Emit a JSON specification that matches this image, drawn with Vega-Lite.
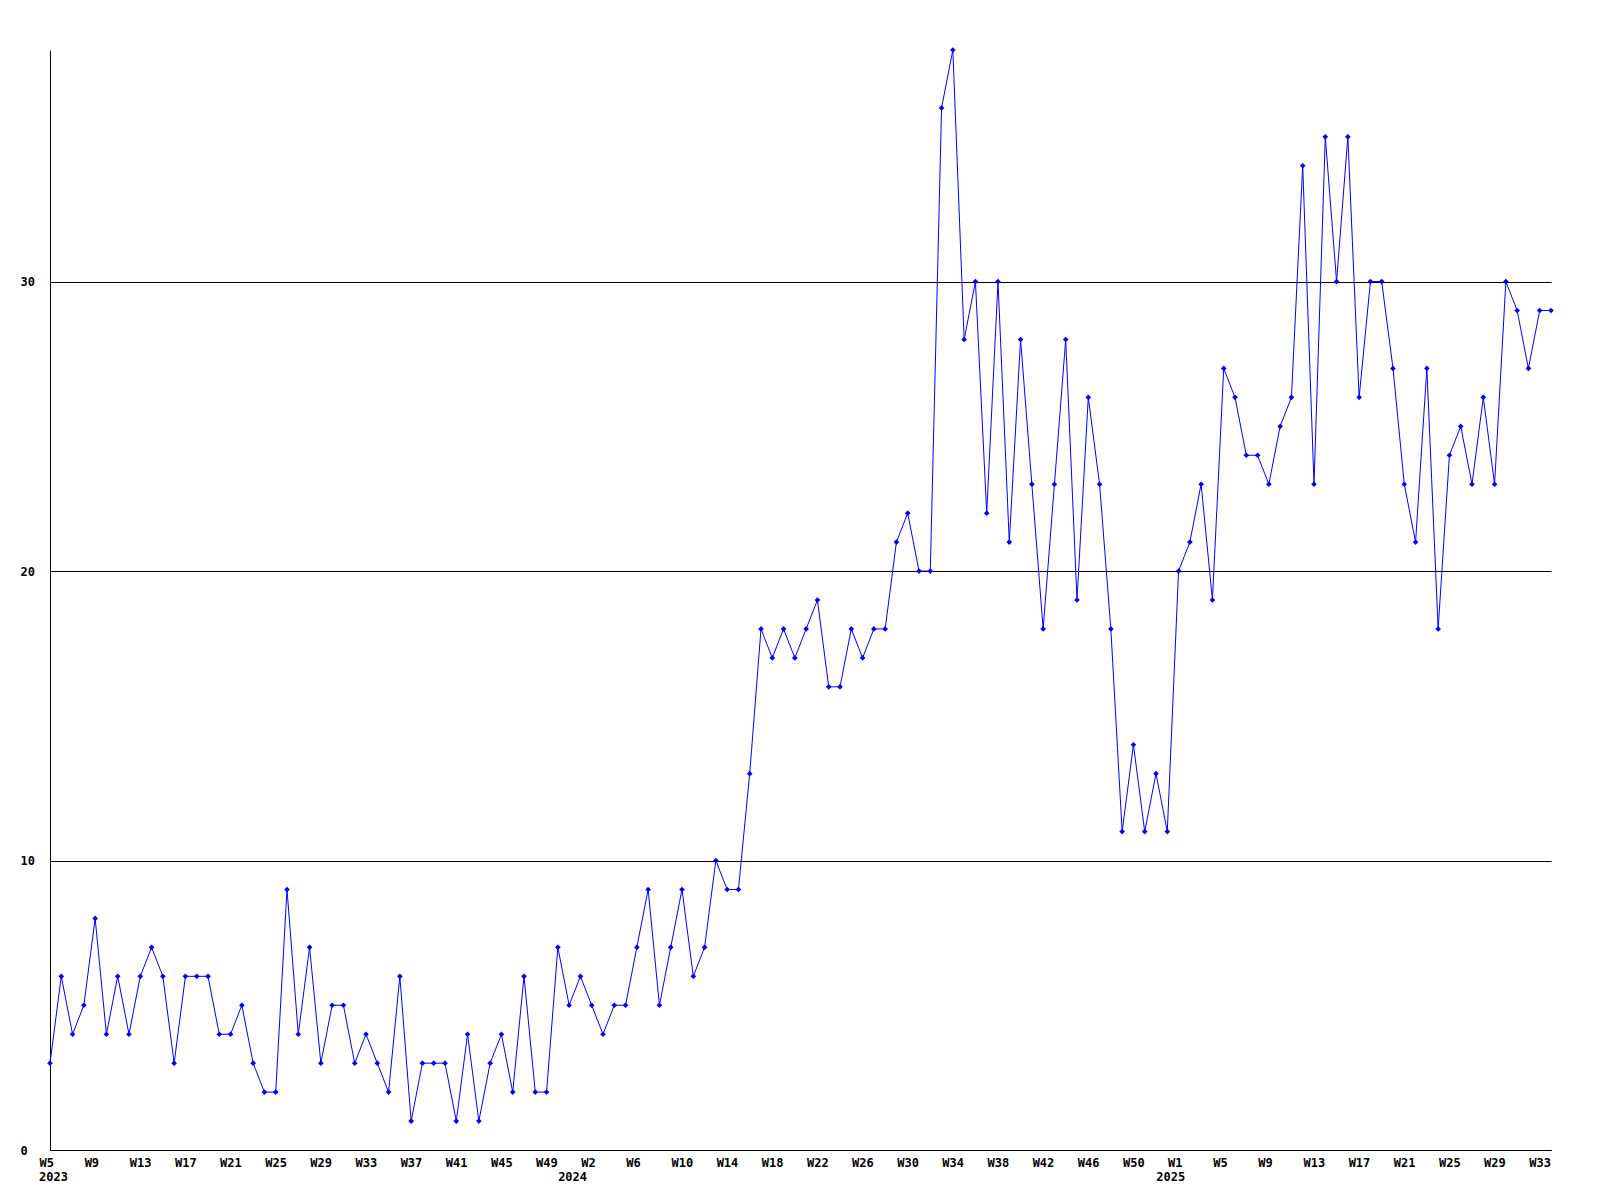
{
  "$schema": "https://vega.github.io/schema/vega-lite/v6.json",
  "width": 1501,
  "height": 1100,
  "autosize": {"type": "none"},
  "padding": {"left": 50, "top": 50, "right": 49, "bottom": 50},
  "background": "white",
  "config": {"view": {"stroke": null}, "font": "DejaVu Sans Mono"},
  "datasets": {
    "weekly": [
      {"week": "2023-W05", "count": 3}, {"week": "2023-W06", "count": 6}, {"week": "2023-W07", "count": 4}, {"week": "2023-W08", "count": 5},
      {"week": "2023-W09", "count": 8}, {"week": "2023-W10", "count": 4}, {"week": "2023-W11", "count": 6}, {"week": "2023-W12", "count": 4},
      {"week": "2023-W13", "count": 6}, {"week": "2023-W14", "count": 7}, {"week": "2023-W15", "count": 6}, {"week": "2023-W16", "count": 3},
      {"week": "2023-W17", "count": 6}, {"week": "2023-W18", "count": 6}, {"week": "2023-W19", "count": 6}, {"week": "2023-W20", "count": 4},
      {"week": "2023-W21", "count": 4}, {"week": "2023-W22", "count": 5}, {"week": "2023-W23", "count": 3}, {"week": "2023-W24", "count": 2},
      {"week": "2023-W25", "count": 2}, {"week": "2023-W26", "count": 9}, {"week": "2023-W27", "count": 4}, {"week": "2023-W28", "count": 7},
      {"week": "2023-W29", "count": 3}, {"week": "2023-W30", "count": 5}, {"week": "2023-W31", "count": 5}, {"week": "2023-W32", "count": 3},
      {"week": "2023-W33", "count": 4}, {"week": "2023-W34", "count": 3}, {"week": "2023-W35", "count": 2}, {"week": "2023-W36", "count": 6},
      {"week": "2023-W37", "count": 1}, {"week": "2023-W38", "count": 3}, {"week": "2023-W39", "count": 3}, {"week": "2023-W40", "count": 3},
      {"week": "2023-W41", "count": 1}, {"week": "2023-W42", "count": 4}, {"week": "2023-W43", "count": 1}, {"week": "2023-W44", "count": 3},
      {"week": "2023-W45", "count": 4}, {"week": "2023-W46", "count": 2}, {"week": "2023-W47", "count": 6}, {"week": "2023-W48", "count": 2},
      {"week": "2023-W49", "count": 2}, {"week": "2023-W50", "count": 7}, {"week": "2023-W51", "count": 5}, {"week": "2023-W52", "count": 6},
      {"week": "2024-W02", "count": 5}, {"week": "2024-W03", "count": 4}, {"week": "2024-W04", "count": 5}, {"week": "2024-W05", "count": 5},
      {"week": "2024-W06", "count": 7}, {"week": "2024-W07", "count": 9}, {"week": "2024-W08", "count": 5}, {"week": "2024-W09", "count": 7},
      {"week": "2024-W10", "count": 9}, {"week": "2024-W11", "count": 6}, {"week": "2024-W12", "count": 7}, {"week": "2024-W13", "count": 10},
      {"week": "2024-W14", "count": 9}, {"week": "2024-W15", "count": 9}, {"week": "2024-W16", "count": 13}, {"week": "2024-W17", "count": 18},
      {"week": "2024-W18", "count": 17}, {"week": "2024-W19", "count": 18}, {"week": "2024-W20", "count": 17}, {"week": "2024-W21", "count": 18},
      {"week": "2024-W22", "count": 19}, {"week": "2024-W23", "count": 16}, {"week": "2024-W24", "count": 16}, {"week": "2024-W25", "count": 18},
      {"week": "2024-W26", "count": 17}, {"week": "2024-W27", "count": 18}, {"week": "2024-W28", "count": 18}, {"week": "2024-W29", "count": 21},
      {"week": "2024-W30", "count": 22}, {"week": "2024-W31", "count": 20}, {"week": "2024-W32", "count": 20}, {"week": "2024-W33", "count": 36},
      {"week": "2024-W34", "count": 38}, {"week": "2024-W35", "count": 28}, {"week": "2024-W36", "count": 30}, {"week": "2024-W37", "count": 22},
      {"week": "2024-W38", "count": 30}, {"week": "2024-W39", "count": 21}, {"week": "2024-W40", "count": 28}, {"week": "2024-W41", "count": 23},
      {"week": "2024-W42", "count": 18}, {"week": "2024-W43", "count": 23}, {"week": "2024-W44", "count": 28}, {"week": "2024-W45", "count": 19},
      {"week": "2024-W46", "count": 26}, {"week": "2024-W47", "count": 23}, {"week": "2024-W48", "count": 18}, {"week": "2024-W49", "count": 11},
      {"week": "2024-W50", "count": 14}, {"week": "2024-W51", "count": 11}, {"week": "2024-W52", "count": 13}, {"week": "2024-W53", "count": 11},
      {"week": "2025-W01", "count": 20}, {"week": "2025-W02", "count": 21}, {"week": "2025-W03", "count": 23}, {"week": "2025-W04", "count": 19},
      {"week": "2025-W05", "count": 27}, {"week": "2025-W06", "count": 26}, {"week": "2025-W07", "count": 24}, {"week": "2025-W08", "count": 24},
      {"week": "2025-W09", "count": 23}, {"week": "2025-W10", "count": 25}, {"week": "2025-W11", "count": 26}, {"week": "2025-W12", "count": 34},
      {"week": "2025-W13", "count": 23}, {"week": "2025-W14", "count": 35}, {"week": "2025-W15", "count": 30}, {"week": "2025-W16", "count": 35},
      {"week": "2025-W17", "count": 26}, {"week": "2025-W18", "count": 30}, {"week": "2025-W19", "count": 30}, {"week": "2025-W20", "count": 27},
      {"week": "2025-W21", "count": 23}, {"week": "2025-W22", "count": 21}, {"week": "2025-W23", "count": 27}, {"week": "2025-W24", "count": 18},
      {"week": "2025-W25", "count": 24}, {"week": "2025-W26", "count": 25}, {"week": "2025-W27", "count": 23}, {"week": "2025-W28", "count": 26},
      {"week": "2025-W29", "count": 23}, {"week": "2025-W30", "count": 30}, {"week": "2025-W31", "count": 29}, {"week": "2025-W32", "count": 27},
      {"week": "2025-W33", "count": 29}, {"week": "2025-W34", "count": 29}
    ],
    "years": [
      {"week": "2023-W05", "year": "2023"},
      {"week": "2023-W51", "year": "2024"},
      {"week": "2024-W53", "year": "2025"}
    ]
  },
  "encoding": {
    "x": {
      "field": "week",
      "type": "ordinal",
      "scale": {"type": "point", "padding": 0},
      "axis": {
        "title": null,
        "values": ["2023-W05", "2023-W09", "2023-W13", "2023-W17", "2023-W21", "2023-W25", "2023-W29", "2023-W33", "2023-W37", "2023-W41", "2023-W45", "2023-W49",
                   "2024-W02", "2024-W06", "2024-W10", "2024-W14", "2024-W18", "2024-W22", "2024-W26", "2024-W30", "2024-W34", "2024-W38", "2024-W42", "2024-W46", "2024-W50",
                   "2025-W01", "2025-W05", "2025-W09", "2025-W13", "2025-W17", "2025-W21", "2025-W25", "2025-W29", "2025-W33"],
        "labelExpr": "'W' + toNumber(substring(datum.value, 6))",
        "labelAngle": 0,
        "labelAlign": "left",
        "labelBaseline": "top",
        "labelOffset": -11,
        "labelPadding": 7,
        "labelOverlap": false,
        "labelBound": false,
        "labelFlush": false,
        "labelFont": "DejaVu Sans Mono",
        "labelFontWeight": "bold",
        "labelFontSize": 12,
        "labelColor": "black",
        "ticks": false,
        "tickSize": 0,
        "grid": false,
        "domain": true,
        "domainColor": "black",
        "domainWidth": 1
      }
    }
  },
  "layer": [
    {
      "data": {"name": "weekly"},
      "mark": {"type": "line", "color": "#0000ff", "strokeWidth": 1},
      "encoding": {
        "y": {
          "field": "count",
          "type": "quantitative",
          "scale": {"domain": [0, 38], "nice": false},
          "axis": {
            "title": null,
            "values": [0, 10, 20, 30],
            "grid": true,
            "gridColor": "black",
            "gridOpacity": 1,
            "gridWidth": 1,
            "domain": true,
            "domainColor": "black",
            "domainWidth": 1,
            "ticks": false,
            "tickSize": 0,
            "labelAlign": "left",
            "labelPadding": 30,
            "labelFont": "DejaVu Sans Mono",
            "labelFontWeight": "bold",
            "labelFontSize": 12,
            "labelColor": "black"
          }
        }
      }
    },
    {
      "data": {"name": "weekly"},
      "mark": {"type": "point", "shape": "diamond", "filled": true, "color": "#0000ff", "size": 32, "opacity": 1},
      "encoding": {
        "y": {"field": "count", "type": "quantitative"}
      }
    },
    {
      "data": {"name": "years"},
      "mark": {"type": "text", "align": "left", "baseline": "top", "dx": -11, "dy": 22, "font": "DejaVu Sans Mono", "fontWeight": "bold", "fontSize": 12, "color": "black"},
      "encoding": {
        "y": {"datum": 0, "type": "quantitative"},
        "text": {"field": "year"}
      }
    }
  ]
}
